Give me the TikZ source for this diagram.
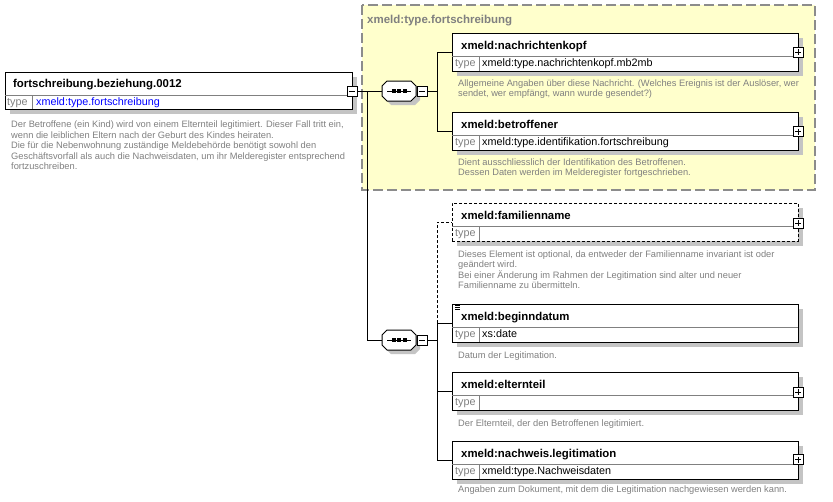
\documentclass[tikz,border=0pt]{standalone}
\usepackage{fontspec}
\setmainfont{Liberation Sans}
\usetikzlibrary{shadows,calc}
\definecolor{grpfill}{HTML}{FFFFCC}
\definecolor{grpline}{HTML}{8C8C8C}
\definecolor{txtgray}{HTML}{808080}
\definecolor{shd}{HTML}{C4C4C4}
\definecolor{typeblue}{HTML}{0000FF}
\tikzset{
  conn/.style={draw=black, line width=1pt},
  divider/.style={draw=txtgray, line width=1pt},
  boxshadow/.style={drop shadow={shadow xshift=5pt, shadow yshift=-5pt, fill=shd, opacity=1}},
  elembox/.style={draw=black, line width=1pt, fill=white, minimum width=346pt, minimum height=38pt,
    inner sep=0pt, outer sep=0pt, anchor=north west, boxshadow},
  optbox/.style={dash pattern=on 3pt off 2pt},
  hdr/.style={font=\fontsize{11.4}{13}\selectfont\bfseries, anchor=west, inner sep=0pt,
    text height=9pt, text depth=1pt},
  grptitle/.style={font=\fontsize{11.5}{13}\selectfont\bfseries, text=txtgray, anchor=west, inner sep=0pt,
    text height=9pt, text depth=1pt},
  typelbl/.style={font=\fontsize{10.8}{13}\selectfont, text=txtgray, anchor=west, inner sep=0pt,
    text height=8pt, text depth=2pt},
  typeval/.style={font=\fontsize{10.8}{13}\selectfont, anchor=west, inner sep=0pt,
    text height=8pt, text depth=2pt},
  desc/.style={font=\fontsize{9.3}{10.4}\selectfont, text=txtgray, align=left, anchor=north west, inner sep=0pt},
  pmbox/.style={draw=black, line width=1pt, fill=white, minimum size=10pt, inner sep=0pt, outer sep=0pt},
  minusbox/.style={pmbox, path picture={
      \draw[line width=1pt] ([xshift=2pt]path picture bounding box.west) -- ([xshift=-2pt]path picture bounding box.east);}},
  plusbox/.style={pmbox, path picture={
      \draw[line width=1pt] ([xshift=2pt]path picture bounding box.west) -- ([xshift=-2pt]path picture bounding box.east);
      \draw[line width=1pt] ([yshift=-2pt]path picture bounding box.north) -- ([yshift=2pt]path picture bounding box.south);}},
  seqnode/.style={rectangle, minimum width=34pt, minimum height=20pt, inner sep=0pt, outer sep=0pt}
}
\newcommand\seqicon[1]{%
  \begin{scope}[shift={(#1.center)}]
    \fill[shd] (-8,-6) -- (16,-6) -- (21,-1) -- (21,9) -- (16,14) -- (-8,14) -- (-13,9) -- (-13,-1) -- cycle;
    \draw[line width=1pt, fill=white] (-12,-10) -- (12,-10) -- (17,-5) -- (17,5) -- (12,10) -- (-12,10) -- (-17,5) -- (-17,-5) -- cycle;
    \draw[line width=1pt] (-12,0) -- (12,0);
    \fill (-7.5,-1.6) rectangle (-3.5,1.6);
    \fill (-2,-1.6) rectangle (2,1.6);
    \fill (3.5,-1.6) rectangle (7.5,1.6);
  \end{scope}}
\newcommand\xelem[5]{%
  \node[elembox,#5] (#1) at (452,#2) {};
  \draw[divider] ($(#1.north west)+(0,23)$) -- ($(#1.north east)+(0,23)$);
  \draw[divider] ($(#1.north west)+(27,23)$) -- ($(#1.south west)+(27,0)$);
  \node[hdr] (#1-h) at ($(#1.north west)+(9,12)$) {#3};
  \node[typelbl] (#1-t) at ($(#1.north west)+(3,30.5)$) {type};
  \node[typeval] (#1-v) at ($(#1.north west)+(30,30.5)$) {#4};
}
\begin{document}
\begin{tikzpicture}[x=1pt,y=-1pt]
\fill[white] (0,0) rectangle (833,501);
\useasboundingbox (0,0) rectangle (833,501);

% group box
\draw[fill=grpfill, draw=grpline, line width=1.5pt, dash pattern=on 10pt off 4pt] (362,5) rectangle (815,190);
\node[grptitle] (grp-t) at (367,19) {xmeld:type.fortschreibung};

% root element
\node[draw=black, line width=1pt, fill=white, minimum width=347pt, minimum height=37pt, inner sep=0pt,
  outer sep=0pt, anchor=north west, boxshadow] (root) at (5,72) {};
\draw[divider] ($(root.north west)+(0,23)$) -- ($(root.north east)+(0,23)$);
\draw[divider] ($(root.north west)+(27,23)$) -- ($(root.south west)+(27,0)$);
\node[hdr] (root-h) at ($(root.north west)+(8,11.5)$) {fortschreibung.beziehung.0012};
\node[typelbl] (root-t) at ($(root.north west)+(2,30)$) {type};
\node[typeval, text=typeblue] (root-v) at ($(root.north west)+(31,30)$) {xmeld:type.fortschreibung};
\node[desc] (root-d) at (11,121) {Der Betroffene (ein Kind) wird von einem Elternteil legitimiert. Dieser Fall tritt ein,\\
wenn die leiblichen Eltern nach der Geburt des Kindes heiraten.\\
Die für die Nebenwohnung zuständige Meldebehörde benötigt sowohl den\\
Geschäftsvorfall als auch die Nachweisdaten, um ihr Melderegister entsprechend\\
fortzuschreiben.};

% sequence compositors
\node[seqnode] (seq1) at (399,91) {};
\node[seqnode] (seq2) at (399,340) {};

% child elements
\xelem{nk}{33}{xmeld:nachrichtenkopf}{xmeld:type.nachrichtenkopf.mb2mb}{}
\xelem{bt}{112}{xmeld:betroffener}{xmeld:type.identifikation.fortschreibung}{}
\xelem{fam}{203}{xmeld:familienname}{}{optbox}
\xelem{beg}{304}{xmeld:beginndatum}{xs:date}{}
\xelem{elt}{372}{xmeld:elternteil}{}{}
\xelem{nach}{441}{xmeld:nachweis.legitimation}{xmeld:type.Nachweisdaten}{}

% collapse boxes
\node[pmbox, draw=none, fill=none] (lm) at (352,91) {};
\node[pmbox, draw=none, fill=none] (sm1) at (422,91) {};
\node[pmbox, draw=none, fill=none] (sm2) at (422,340) {};

% connectors
\draw[conn] (lm.east) -- (seq1.west);
\draw[conn] (lm.east) -- ++(10,0) |- (seq2.west);
\draw[conn] (sm1.east) -- ++(10,0) |- (nk.west);
\draw[conn] (sm1.east) -- ++(10,0) |- (bt.west);
\draw[conn] (sm2.east) -- ++(10,0) |- (beg.west);
\draw[conn] (sm2.east) -- ++(10,0) |- (elt.west);
\draw[conn] (sm2.east) -- ++(10,0) |- (nach.west);
\coordinate (jb) at ($(beg.west)+(-15,0)$);
\draw[conn, dash pattern=on 3pt off 2pt] (jb) |- (fam.west);

% compositor icons
\seqicon{seq1}
\seqicon{seq2}
\node[minusbox] at (lm) {};
\node[minusbox] at (sm1) {};
\node[minusbox] at (sm2) {};

% beginndatum simple-content icon
\draw[line width=0.8pt] ($(beg.north west)+(3,1.5)$) -- ++(5,0);
\draw[line width=0.8pt] ($(beg.north west)+(3,3.5)$) -- ++(5,0);
\draw[line width=0.8pt] ($(beg.north west)+(3,5.5)$) -- ++(5,0);

% expand boxes
\node[plusbox] (nk-p) at ($(nk.north east)+(0,19)$) {};
\node[plusbox] (bt-p) at ($(bt.north east)+(0,19.5)$) {};
\node[plusbox] (fam-p) at ($(fam.north east)+(0,20)$) {};
\node[plusbox] (elt-p) at ($(elt.north east)+(0,20)$) {};
\node[plusbox] (nach-p) at ($(nach.north east)+(0,18.5)$) {};

% descriptions
\node[desc] (nk-d) at (458,79.5) {Allgemeine Angaben über diese Nachricht. (Welches Ereignis ist der Auslöser, wer\\
sendet, wer empfängt, wann wurde gesendet?)};
\node[desc] (bt-d) at (458,158.5) {Dient ausschliesslich der Identifikation des Betroffenen.\\
Dessen Daten werden im Melderegister fortgeschrieben.};
\node[desc] (fam-d) at (458,250.5) {Dieses Element ist optional, da entweder der Familienname invariant ist oder\\
geändert wird.\\
Bei einer Änderung im Rahmen der Legitimation sind alter und neuer\\
Familienname zu übermitteln.};
\node[desc] (beg-d) at (458,351.5) {Datum der Legitimation.};
\node[desc] (elt-d) at (458,419.5) {Der Elternteil, der den Betroffenen legitimiert.};
\node[desc] (nach-d) at (458,485.5) {Angaben zum Dokument, mit dem die Legitimation nachgewiesen werden kann.};
\end{tikzpicture}
\end{document}
